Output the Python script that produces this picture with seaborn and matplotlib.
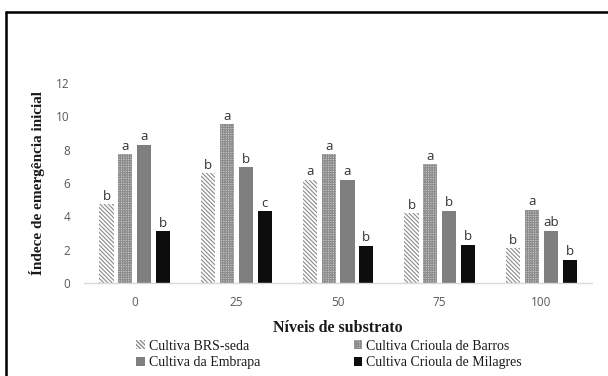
import matplotlib
matplotlib.use("Agg")
import matplotlib.pyplot as plt
from matplotlib.patches import Patch
from matplotlib.lines import Line2D
import seaborn as sns
import pandas as pd

# Substrate levels and cultivar series
niveis = ["0", "25", "50", "75", "100"]
cultivares = ["Cultiva BRS-seda", "Cultiva Crioula de Barros",
              "Cultiva da Embrapa", "Cultiva Crioula de Milagres"]

brs_seda = [4.75, 6.6, 6.2, 4.2, 2.1]
crioula_barros = [7.75, 9.55, 7.75, 7.15, 4.4]
embrapa = [8.3, 6.95, 6.2, 4.35, 3.15]
crioula_milagres = [3.1, 4.3, 2.25, 2.3, 1.4]

letras_brs = ["b", "b", "a", "b", "b"]
letras_barros = ["a", "a", "a", "a", "a"]
letras_embrapa = ["a", "b", "a", "b", "ab"]
letras_milagres = ["b", "c", "b", "b", "b"]

valores = [brs_seda, crioula_barros, embrapa, crioula_milagres]
letras = [letras_brs, letras_barros, letras_embrapa, letras_milagres]

rows = []
for cult, vals in zip(cultivares, valores):
    for nv, v in zip(niveis, vals):
        rows.append({"nivel": nv, "cultivar": cult, "indice": v})
df = pd.DataFrame(rows)

sns.set_style("white")
serif = ["Liberation Serif", "DejaVu Serif"]
sans = ["Open Sans", "DejaVu Sans"]

fig = plt.figure(figsize=(6.08, 3.76), dpi=100)
ax = fig.add_axes([0.138, 0.247, 0.836, 0.532])

styles = [
    dict(facecolor="white", hatch="\\" * 8, hatchcolor="#8a8a8a"),
    dict(facecolor="#c8c8c8", hatch="+" * 7, hatchcolor="#8c8c8c"),
    dict(facecolor="#7f7f7f", hatch=None, hatchcolor="#7f7f7f"),
    dict(facecolor="#0d0d0d", hatch=None, hatchcolor="#0d0d0d"),
]

sns.barplot(data=df, x="nivel", y="indice", hue="cultivar",
            order=niveis, hue_order=cultivares, width=0.74, gap=0.25,
            ax=ax, legend=False)

for cont, st, labs in zip(ax.containers, styles, letras):
    for bar in cont:
        bar.set_facecolor(st["facecolor"])
        bar.set_edgecolor(st["hatchcolor"])
        bar.set_linewidth(0)
        if st["hatch"]:
            bar.set_hatch(st["hatch"])
            bar.set_hatch_linewidth(0.8)
    ax.bar_label(cont, labels=labs, padding=1, fontsize=9.5,
                 color="#333333", family=sans)

ax.set_ylim(0, 12)
ax.set_yticks(range(0, 13, 2))
ax.set_xlim(-0.5, 4.5)
for s in ["left", "right", "top"]:
    ax.spines[s].set_visible(False)
ax.spines["bottom"].set_color("#d9d9d9")
ax.spines["bottom"].set_linewidth(1.0)
ax.tick_params(axis="y", length=0, labelsize=8.5, colors="#595959", pad=10)
ax.tick_params(axis="x", length=0, labelsize=8.5, colors="#595959", pad=9)
for lab in ax.get_xticklabels() + ax.get_yticklabels():
    lab.set_family(sans)

ax.set_xlabel("Níveis de substrato", family=serif, fontweight="bold",
              fontsize=11.5, color="#1a1a1a", labelpad=8)
ax.set_ylabel("Índece de emergência inicial", family=serif, fontweight="bold",
              fontsize=11, color="#1a1a1a", labelpad=8)

handles = {}
for cult, st in zip(cultivares, styles):
    handles[cult] = Patch(facecolor=st["facecolor"], edgecolor=st["hatchcolor"],
                          hatch=st["hatch"], linewidth=0, label=cult)
# two columns, filled row by row
ordem = [cultivares[0], cultivares[2], cultivares[1], cultivares[3]]
leg = fig.legend(handles=[handles[c] for c in ordem], ncol=2, loc="lower left",
                 bbox_to_anchor=(0.2035, -0.015), frameon=False,
                 prop={"family": serif, "size": 10},
                 handlelength=0.6, handleheight=0.6, handletextpad=0.3,
                 columnspacing=6.75, labelspacing=0.25)
for t in leg.get_texts():
    t.set_color("#1a1a1a")

# Outer frame: top and left edges
x0, y0 = 6 / 608, 1 - 12 / 376
fig.add_artist(Line2D([x0, 1.0], [y0, y0], transform=fig.transFigure,
                      color="black", linewidth=1.8))
fig.add_artist(Line2D([x0, x0], [0.0, y0], transform=fig.transFigure,
                      color="black", linewidth=1.8))

fig.savefig("out.png", dpi=100)
